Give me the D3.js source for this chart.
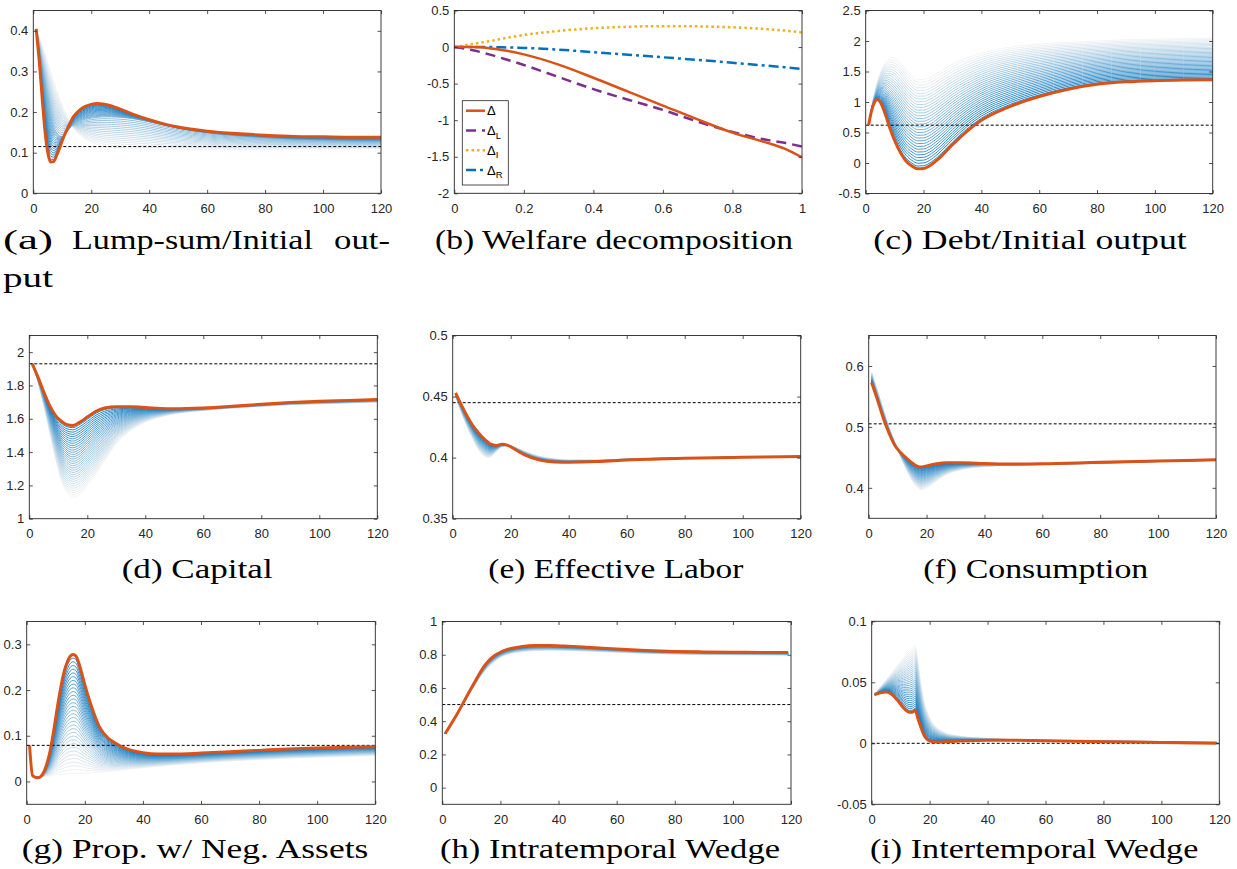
<!DOCTYPE html>
<html>
<head>
<meta charset="utf-8">
<script src="https://cdn.jsdelivr.net/npm/d3@7"></script>
<style>
  body { margin: 0; background: #fff; }
  .cap { font-family: "Liberation Serif", "Times New Roman", serif; font-size: 28px; fill: #000; }
  .leg { font-family: "Liberation Sans", Arial, sans-serif; fill: #000; }
</style>
</head>
<body>
<svg id="fig" width="1237" height="869"></svg>
<script>
// ---- data ----
var xTicks = [0, 20, 40, 60, 80, 100, 120];
var xTicksB = [0, 0.2, 0.4, 0.6, 0.8, 1];

// (a) lump-sum / initial output
var tA = [1,2,3,4,5,6,7,8,9,10,12,14,16,18,20,22,24,27,30,35,40,45,50,60,70,80,90,100,110,120];
var redA = [0.405,0.33,0.24,0.155,0.1,0.077,0.078,0.092,0.11,0.13,0.163,0.19,0.205,0.214,0.219,0.221,0.22,0.215,0.207,0.193,0.181,0.171,0.163,0.153,0.147,0.143,0.14,0.139,0.138,0.138];
var midA = [0.402,0.36,0.31,0.265,0.225,0.19,0.165,0.15,0.142,0.14,0.155,0.172,0.178,0.182,0.185,0.187,0.188,0.188,0.187,0.183,0.176,0.168,0.16,0.149,0.142,0.137,0.133,0.131,0.129,0.128];
var lightA = [0.4,0.385,0.365,0.345,0.32,0.3,0.275,0.255,0.235,0.215,0.185,0.16,0.145,0.133,0.126,0.121,0.117,0.114,0.112,0.11,0.109,0.108,0.108,0.108,0.108,0.108,0.109,0.109,0.11,0.11];
var steadyA = 0.115;
var yTicksA = [0, 0.1, 0.2, 0.3, 0.4];

// (b) welfare decomposition
var xB = [0,0.05,0.1,0.15,0.2,0.3,0.4,0.5,0.6,0.7,0.8,0.9,0.95,1];
var deltaB = [0,0,-0.015,-0.05,-0.1,-0.24,-0.42,-0.61,-0.8,-0.99,-1.17,-1.31,-1.39,-1.51];
var deltaLB = [0,-0.04,-0.1,-0.17,-0.245,-0.41,-0.575,-0.72,-0.86,-1.02,-1.16,-1.27,-1.31,-1.36];
var deltaIB = [0,0.04,0.08,0.125,0.165,0.22,0.258,0.278,0.286,0.283,0.27,0.245,0.225,0.2];
var deltaRB = [0,0,0,-0.005,-0.012,-0.035,-0.07,-0.105,-0.14,-0.175,-0.215,-0.255,-0.275,-0.3];
var yTicksB = [-2, -1.5, -1, -0.5, 0, 0.5];

// (c) debt / initial output
var tC = [1,2,3,4,5,6,7,8,9,10,12,14,16,18,20,22,25,30,35,40,50,60,70,80,90,100,110,120];
var redC = [0.62,0.85,0.99,1.04,1.0,0.9,0.77,0.62,0.49,0.37,0.17,0.03,-0.05,-0.095,-0.09,-0.05,0.06,0.3,0.52,0.7,0.93,1.09,1.21,1.29,1.33,1.35,1.36,1.365];
var lightC = [0.62,0.9,1.12,1.32,1.47,1.58,1.66,1.71,1.73,1.72,1.65,1.53,1.43,1.37,1.37,1.4,1.48,1.62,1.72,1.8,1.9,1.95,1.98,2.0,2.02,2.03,2.04,2.05];
var steadyC = 0.62;
var yTicksC = [-0.5, 0, 0.5, 1, 1.5, 2, 2.5];

// (d) capital
var tD = [1,3,5,7,9,11,13,15,17,20,23,26,30,35,40,45,50,60,70,80,90,100,110,120];
var redD = [1.93,1.85,1.76,1.68,1.62,1.585,1.565,1.56,1.575,1.61,1.645,1.665,1.672,1.672,1.668,1.662,1.66,1.665,1.675,1.687,1.697,1.705,1.71,1.715];
var lightD = [1.93,1.82,1.68,1.52,1.36,1.23,1.16,1.13,1.14,1.2,1.27,1.35,1.45,1.53,1.58,1.61,1.63,1.65,1.665,1.675,1.685,1.69,1.695,1.7];
var steadyD = 1.93;
var yTicksD = [1, 1.2, 1.4, 1.6, 1.8, 2];

// (e) effective labor
var tE = [1,3,5,7,9,11,12,13,15,17,19,22,25,30,35,40,50,60,80,100,120];
var redE = [0.453,0.443,0.434,0.426,0.42,0.415,0.413,0.411,0.41,0.411,0.41,0.406,0.402,0.398,0.3965,0.3963,0.3968,0.398,0.3995,0.4003,0.401];
var lightE = [0.45,0.437,0.425,0.415,0.406,0.401,0.4,0.4005,0.405,0.409,0.41,0.408,0.405,0.401,0.399,0.398,0.398,0.399,0.4,0.4005,0.401];
var steadyE = 0.445;
var yTicksE = [0.35, 0.4, 0.45, 0.5];

// (f) consumption
var tF = [1,3,5,7,9,11,13,15,17,18,20,23,27,32,40,50,60,80,100,120];
var redF = [0.573,0.545,0.515,0.49,0.47,0.458,0.449,0.441,0.435,0.434,0.436,0.439,0.441,0.441,0.44,0.439,0.4395,0.442,0.444,0.446];
var lightF = [0.59,0.56,0.53,0.5,0.475,0.452,0.43,0.412,0.4,0.397,0.4,0.41,0.422,0.43,0.435,0.437,0.438,0.44,0.443,0.445];
var steadyF = 0.505;
var yTicksF = [0.4, 0.5, 0.6];

// (g) share with negative assets
var tG = [1,2,3,4,5,6,7,8,9,10,11,12,13,14,15,16,17,18,19,20,22,25,28,30,35,40,45,50,60,70,80,90,100,110,120];
var redG = [0.078,0.013,0.009,0.008,0.012,0.022,0.04,0.065,0.1,0.14,0.18,0.215,0.243,0.262,0.274,0.278,0.274,0.258,0.236,0.212,0.17,0.12,0.095,0.086,0.07,0.063,0.06,0.06,0.062,0.065,0.068,0.071,0.073,0.075,0.076];
var lightG = [0.078,0.013,0.01,0.01,0.01,0.011,0.012,0.012,0.013,0.014,0.015,0.015,0.016,0.017,0.017,0.018,0.018,0.018,0.018,0.018,0.019,0.02,0.022,0.023,0.027,0.03,0.033,0.036,0.041,0.045,0.048,0.051,0.053,0.055,0.057];
var steadyG = 0.079;
var yTicksG = [0, 0.1, 0.2, 0.3];

// (h) intratemporal wedge
var tH = [1,5,10,15,18,20,23,27,32,37,42,50,60,70,80,90,100,110,119];
var redH = [0.325,0.44,0.6,0.745,0.795,0.815,0.835,0.848,0.855,0.855,0.852,0.845,0.835,0.826,0.82,0.817,0.815,0.814,0.813];
var lightH = [0.325,0.435,0.585,0.71,0.76,0.785,0.805,0.818,0.825,0.827,0.826,0.822,0.815,0.808,0.804,0.801,0.8,0.799,0.798];
var steadyH = 0.5;
var yTicksH = [0, 0.2, 0.4, 0.6, 0.8, 1];

// (i) intertemporal wedge
var tI = [1,3,5,7,9,11,13,14,15,16,17,18,19,20,22,25,30,40,50,60,80,100,119];
var redI = [0.04,0.0415,0.042,0.04,0.035,0.029,0.0255,0.0255,0.027,0.02,0.013,0.007,0.0035,0.002,0.001,0.0012,0.0018,0.0025,0.0025,0.002,0.0013,0.0007,0.0];
var lightI = [0.04,0.046,0.052,0.058,0.064,0.07,0.076,0.078,0.08,0.066,0.048,0.035,0.027,0.021,0.014,0.009,0.006,0.004,0.003,0.0025,0.002,0.0015,0.001];
var steadyI = 0;
var yTicksI = [-0.05, 0, 0.05, 0.1];

// ---- layout ----
var svg = d3.select("#fig");
var axisColor = "#262626";
var red = "#D95319";
var nFan = 32;
var fanColor = d3.interpolateRgb("#f3f3f3", "#0072BD");

var panels = [
  { id: "a", t: tA, red: redA, mid: midA, light: lightA, steady: steadyA, yDomain: [0, 0.45], yTicks: yTicksA, box: [33.3, 381, 10.5, 193.3] },
  { id: "b", box: [454.3, 802, 10.5, 193.3] },
  { id: "c", t: tC, red: redC, light: lightC, steady: steadyC, yDomain: [-0.5, 2.5], yTicks: yTicksC, box: [865.7, 1212.7, 10.5, 193.5] },
  { id: "d", t: tD, red: redD, light: lightD, steady: steadyD, yDomain: [1, 2.1], yTicks: yTicksD, box: [29.3, 377.3, 335.5, 518.7] },
  { id: "e", t: tE, red: redE, light: lightE, steady: steadyE, yDomain: [0.35, 0.5], yTicks: yTicksE, box: [452.7, 800.7, 335.5, 518.7] },
  { id: "f", t: tF, red: redF, light: lightF, steady: steadyF, yDomain: [0.35, 0.65], yTicks: yTicksF, box: [868.7, 1216, 335.5, 518.3] },
  { id: "g", t: tG, red: redG, light: lightG, steady: steadyG, yDomain: [-0.05, 0.35], yTicks: yTicksG, box: [26.7, 375.3, 621.5, 804.3] },
  { id: "h", t: tH, red: redH, light: lightH, steady: steadyH, yDomain: [-0.1, 1], yTicks: yTicksH, box: [442.3, 791, 621.5, 804.3] },
  { id: "i", t: tI, red: redI, light: lightI, steady: steadyI, yDomain: [-0.05, 0.1], yTicks: yTicksI, box: [871.7, 1219.3, 621.3, 804.3] }
];

function drawAxes(g, x, y, xt, yt) {
  var b = x.range(), c = y.range();
  var ax = g.append("g");
  ax.append("g").attr("transform", "translate(0," + c[0] + ")")
    .call(d3.axisBottom(x).tickValues(xt).tickSize(-3.5).tickSizeOuter(0).tickPadding(10.5).tickFormat(d3.format("")));
  ax.append("g").attr("transform", "translate(0," + c[1] + ")")
    .call(d3.axisTop(x).tickValues(xt).tickSize(-3.5).tickSizeOuter(0).tickFormat(""));
  ax.append("g").attr("transform", "translate(" + b[0] + ",0)")
    .call(d3.axisLeft(y).tickValues(yt).tickSize(-3.5).tickSizeOuter(0).tickPadding(5).tickFormat(function(d) { return String(d); }));
  ax.append("g").attr("transform", "translate(" + b[1] + ",0)")
    .call(d3.axisRight(y).tickValues(yt).tickSize(-3.5).tickSizeOuter(0).tickFormat(""));
  ax.selectAll("g").attr("font-size", null).attr("font-family", null);
  ax.selectAll(".domain").remove();
  ax.selectAll(".tick line").attr("stroke", axisColor).attr("stroke-width", 0.8);
  ax.selectAll(".tick text")
    .attr("font-family", "'Liberation Sans', Arial, sans-serif")
    .attr("font-size", 13)
    .attr("fill", axisColor);
  ax.append("rect")
    .attr("x", b[0]).attr("y", c[1])
    .attr("width", b[1] - b[0]).attr("height", c[0] - c[1])
    .attr("fill", "none").attr("stroke", axisColor).attr("stroke-width", 0.9);
}

panels.forEach(function(p) {
  var g = svg.append("g");
  var x = d3.scaleLinear().range([p.box[0], p.box[1]]);
  var y = d3.scaleLinear().range([p.box[3], p.box[2]]);

  g.append("clipPath").attr("id", "clip-" + p.id)
    .append("rect")
    .attr("x", p.box[0]).attr("y", p.box[2])
    .attr("width", p.box[1] - p.box[0]).attr("height", p.box[3] - p.box[2]);
  var plot = g.append("g").attr("clip-path", "url(#clip-" + p.id + ")");

  if (p.id === "b") {
    x.domain([0, 1]);
    y.domain([-2, 0.5]);
    var series = [
      { v: deltaB, color: red, dash: null, w: 2.5 },
      { v: deltaLB, color: "#7E2F8E", dash: "10,6", w: 2.5 },
      { v: deltaIB, color: "#EDB120", dash: "2.5,3", w: 2.5 },
      { v: deltaRB, color: "#0072BD", dash: "10,4,3,4", w: 2.5 }
    ];
    // draw back to front so the solid Δ sits on top
    series.slice().reverse().forEach(function(s) {
      var line = d3.line().x(function(d, i) { return x(xB[i]); }).y(function(d) { return y(d); }).curve(d3.curveMonotoneX);
      plot.append("path").attr("d", line(s.v))
        .attr("fill", "none").attr("stroke", s.color)
        .attr("stroke-width", s.w).attr("stroke-dasharray", s.dash);
    });
    drawAxes(g, x, y, xTicksB, yTicksB);

    // legend
    var lg = g.append("g").attr("class", "leg");
    lg.append("rect").attr("x", 462.3).attr("y", 100.7).attr("width", 46).attr("height", 84.3)
      .attr("fill", "#fff").attr("stroke", axisColor).attr("stroke-width", 0.8);
    var subs = ["", "L", "I", "R"];
    series.forEach(function(s, i) {
      var yy = 110.7 + i * 19.8;
      lg.append("line").attr("x1", 466).attr("x2", 485).attr("y1", yy).attr("y2", yy)
        .attr("stroke", s.color).attr("stroke-width", s.w).attr("stroke-dasharray", s.dash);
      var tx = lg.append("text").attr("x", 487).attr("y", yy + 4.5).attr("font-size", 13).text("Δ");
      if (subs[i]) tx.append("tspan").attr("font-size", 9.5).attr("dy", 3.5).text(subs[i]);
    });
    return;
  }

  x.domain([0, 120]);
  y.domain(p.yDomain);

  var line = d3.line()
    .x(function(d, i) { return x(p.t[i]); })
    .y(function(d) { return y(d); })
    .curve(d3.curveMonotoneX);

  // fan of transition paths, pale to dark blue
  d3.range(nFan).forEach(function(k) {
    var w = k / nFan;
    var vals = p.t.map(function(t, i) {
      if (!p.mid) return p.light[i] + (p.red[i] - p.light[i]) * w;
      return w < 0.5
        ? p.light[i] + (p.mid[i] - p.light[i]) * w * 2
        : p.mid[i] + (p.red[i] - p.mid[i]) * (w - 0.5) * 2;
    });
    plot.append("path").attr("d", line(vals))
      .attr("fill", "none").attr("stroke", fanColor(w)).attr("stroke-width", 0.9);
  });

  plot.append("line")
    .attr("x1", x(0)).attr("x2", x(120))
    .attr("y1", y(p.steady)).attr("y2", y(p.steady))
    .attr("stroke", "#000").attr("stroke-width", 1).attr("stroke-dasharray", "3,2");

  plot.append("path").attr("d", line(p.red))
    .attr("fill", "none").attr("stroke", red).attr("stroke-width", 3);

  drawAxes(g, x, y, xTicks, p.yTicks);
});

// ---- captions ----
var captions = [
  { text: "(a)", x: 3, y: 248.5, len: 50 },
  { text: "Lump-sum/Initial", x: 72, y: 248.5, len: 241 },
  { text: "out-", x: 334, y: 248.5, len: 56 },
  { text: "put", x: 3, y: 287, len: 50 },
  { text: "(b) Welfare decomposition", x: 435, y: 248.5, len: 358 },
  { text: "(c) Debt/Initial output", x: 873.3, y: 248.5, len: 313.4 },
  { text: "(d) Capital", x: 121.7, y: 578, len: 151 },
  { text: "(e) Effective Labor", x: 488.3, y: 578, len: 255 },
  { text: "(f) Consumption", x: 923.3, y: 578, len: 225 },
  { text: "(g) Prop. w/ Neg. Assets", x: 21.7, y: 858, len: 346.6 },
  { text: "(h) Intratemporal Wedge", x: 440, y: 858, len: 340 },
  { text: "(i) Intertemporal Wedge", x: 870, y: 858, len: 328.3 }
];
svg.selectAll(".cap").data(captions).enter().append("text")
  .attr("class", "cap")
  .attr("x", function(d) { return d.x; })
  .attr("y", function(d) { return d.y; })
  .attr("textLength", function(d) { return d.len; })
  .attr("lengthAdjust", "spacingAndGlyphs")
  .text(function(d) { return d.text; });
</script>
</body>
</html>
